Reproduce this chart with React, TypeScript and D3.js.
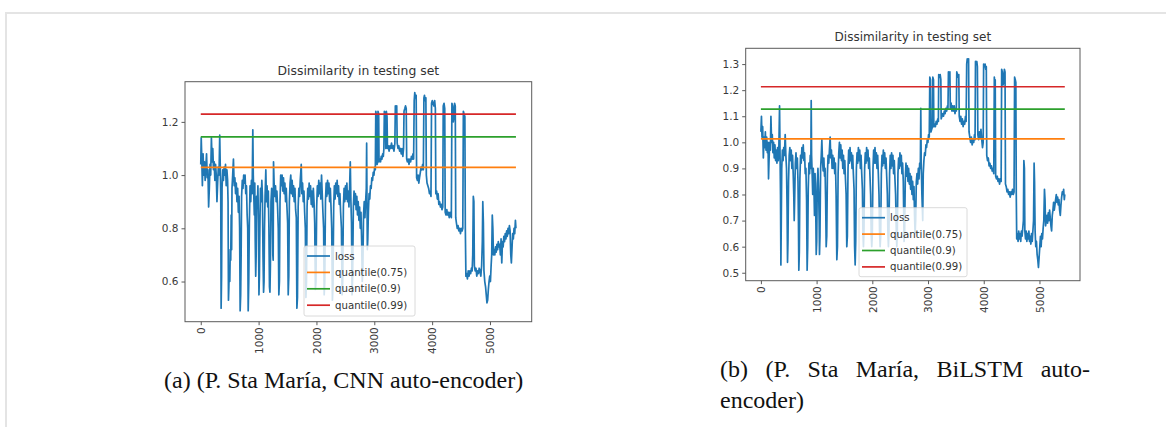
import React, { useEffect, useRef } from "react"
import * as d3 from "d3"

// loss curves as [step, dissimilarity]
const lossCnn: [number, number][] = [
  [0,1.04],[8,1.14],[18,1.06],[28,0.96],[40,1.08],[52,1.0],[64,1.05],[76,0.98],[88,1.03],[100,1.08],[112,0.99],[124,1.02],[136,0.88],[148,0.95],[160,1.04],[172,1.0],[184,1.14],[196,1.05],[208,1.1],[220,1.02],[232,1.05],[244,0.98],[256,1.04],[268,1.0],[280,0.9],[292,0.97],[304,1.03],[316,1.0],[328,1.15],[338,1.02],[346,0.92],[352,0.5],[360,0.62],[368,0.95],[380,1.02],[392,0.98],[404,1.03],[416,1.0],[428,1.04],[440,0.96],[452,1.02],[464,0.98],[472,0.9],[479,0.53],[486,0.58],[494,0.66],[502,0.6],[510,0.72],[518,0.68],[526,0.85],[534,0.72],[540,0.95],[552,1.0],[565,1.06],[578,0.96],[590,0.99],[602,0.93],[614,0.97],[626,0.9],[638,0.95],[650,0.86],[662,0.92],[672,0.8],[681,0.49],[690,0.55],[698,0.7],[706,0.92],[718,0.98],[730,0.95],[742,1.0],[754,0.97],[766,1.0],[778,0.93],[790,0.96],[802,0.85],[812,0.8],[820,0.49],[830,0.6],[840,0.82],[852,0.96],[864,0.9],[876,0.98],[888,0.93],[900,1.17],[908,1.0],[916,0.93],[926,0.85],[934,0.97],[942,0.75],[950,0.62],[958,0.7],[966,0.92],[978,0.88],[988,0.96],[998,0.82],[1006,0.55],[1014,0.62],[1022,0.8],[1032,0.95],[1044,0.9],[1056,0.98],[1066,0.92],[1076,0.7],[1086,0.56],[1094,0.6],[1102,0.8],[1112,0.92],[1125,1.02],[1136,0.9],[1146,0.96],[1158,0.88],[1168,0.94],[1178,0.8],[1188,0.58],[1196,0.56],[1204,0.66],[1214,0.9],[1226,0.95],[1238,0.9],[1246,0.7],[1252,0.68],[1258,1.05],[1268,0.97],[1280,0.92],[1292,0.96],[1304,0.9],[1316,0.94],[1328,0.88],[1340,0.8],[1350,0.55],[1360,0.6],[1370,0.9],[1382,1.0],[1394,0.96],[1406,1.0],[1418,0.94],[1430,0.99],[1442,0.93],[1454,0.97],[1466,0.9],[1478,0.95],[1490,0.88],[1502,0.82],[1512,0.55],[1522,0.62],[1532,0.9],[1544,0.97],[1556,1.0],[1568,0.93],[1580,0.98],[1592,0.92],[1604,0.96],[1616,0.9],[1628,0.95],[1640,0.87],[1652,0.84],[1662,0.5],[1672,0.54],[1684,0.88],[1696,0.95],[1708,0.92],[1720,0.98],[1737,1.04],[1748,0.93],[1760,0.97],[1772,0.9],[1784,0.94],[1796,0.86],[1808,0.8],[1818,0.54],[1828,0.6],[1838,0.88],[1850,0.95],[1862,0.91],[1874,0.97],[1886,0.92],[1898,0.96],[1910,0.89],[1922,0.94],[1934,0.88],[1946,0.95],[1958,0.9],[1970,0.82],[1982,0.57],[1992,0.6],[2004,0.88],[2016,0.96],[2028,0.92],[2040,0.98],[2052,0.93],[2064,0.97],[2076,0.91],[2088,1.0],[2100,0.93],[2112,0.86],[2124,0.8],[2134,0.55],[2144,0.6],[2156,0.9],[2168,0.97],[2180,0.92],[2192,0.98],[2204,0.93],[2216,0.97],[2228,0.9],[2240,0.95],[2252,0.88],[2264,0.8],[2276,0.53],[2286,0.58],[2298,0.88],[2310,0.96],[2322,0.91],[2334,0.97],[2346,0.93],[2358,0.98],[2370,0.92],[2382,0.96],[2394,0.89],[2406,0.93],[2418,0.86],[2432,0.8],[2444,0.55],[2454,0.6],[2466,0.88],[2478,0.95],[2490,0.9],[2502,0.96],[2514,0.91],[2526,0.97],[2538,0.9],[2550,0.94],[2562,0.88],[2574,0.96],[2585,1.05],[2596,0.9],[2606,0.82],[2616,0.55],[2626,0.62],[2638,0.88],[2650,0.94],[2662,0.89],[2674,0.93],[2686,0.87],[2698,0.92],[2710,0.85],[2722,0.9],[2734,0.83],[2746,0.88],[2758,0.8],[2770,0.86],[2782,0.75],[2792,0.6],[2802,0.64],[2814,0.85],[2826,0.9],[2838,0.84],[2850,0.9],[2862,0.95],[2868,1.12],[2874,0.9],[2880,0.72],[2888,0.76],[2898,0.86],[2910,0.93],[2922,0.91],[2934,0.96],[2946,0.95],[2958,0.99],[2970,0.98],[2982,1.01],[2994,1.0],[3006,1.03],[3018,1.02],
  [3026,1.24],[3040,1.22],[3048,1.04],[3058,1.05],[3064,1.24],[3076,1.23],[3082,1.05],[3096,1.06],[3108,1.05],[3120,1.07],[3132,1.06],[3145,1.08],[3156,1.07],[3166,1.1],[3174,1.24],[3190,1.23],[3200,1.1],[3208,1.24],[3220,1.22],[3228,1.1],[3242,1.11],[3256,1.09],[3270,1.11],[3284,1.1],[3298,1.12],[3312,1.1],[3326,1.11],[3340,1.09],[3356,1.12],[3364,1.26],[3378,1.25],[3388,1.26],[3396,1.12],[3410,1.1],[3424,1.11],[3438,1.09],[3452,1.1],[3466,1.08],[3480,1.1],[3494,1.07],[3506,1.1],[3514,1.24],[3528,1.25],[3540,1.26],[3552,1.25],[3560,1.06],[3572,1.05],[3586,1.06],[3600,1.04],[3614,1.06],[3628,1.05],[3642,1.07],[3656,1.06],[3668,1.08],[3680,1.06],[3690,1.28],[3700,1.31],[3712,1.29],[3724,1.3],[3732,0.99],[3746,0.98],[3758,1.0],[3770,0.97],[3782,0.99],[3796,1.01],[3808,1.03],[3822,1.02],[3836,1.04],[3848,1.02],[3858,1.29],[3868,1.3],[3880,1.28],[3892,1.29],[3900,1.0],[3912,0.97],[3926,0.96],[3940,0.95],[3954,0.93],[3968,0.94],[3980,0.92],[3990,1.27],[4002,1.28],[4016,1.27],[4030,1.26],[4044,1.28],[4056,1.25],[4064,0.93],[4078,0.94],[4090,0.91],[4104,0.93],[4116,0.89],[4130,0.9],[4144,0.88],[4158,0.89],[4170,0.87],[4184,0.88],[4192,1.26],[4206,1.27],[4218,1.25],[4226,0.86],[4240,0.85],[4254,0.87],[4268,0.85],[4282,0.86],[4296,0.84],[4310,0.86],[4322,0.85],[4332,0.84],[4342,1.27],[4354,1.26],[4366,1.2],[4376,1.22],[4388,1.27],[4400,1.26],[4408,0.84],[4420,0.82],[4434,0.8],[4448,0.81],[4462,0.79],[4476,0.8],[4490,0.78],[4504,0.8],[4518,0.79],[4530,0.8],[4540,1.24],[4552,1.23],[4566,1.22],[4574,0.8],[4584,0.62],
  [4596,0.63],[4610,0.61],[4624,0.64],[4638,0.62],[4652,0.64],[4666,0.63],[4680,0.65],[4692,0.64],[4702,0.7],[4712,0.92],[4722,0.9],[4730,0.66],[4744,0.64],[4758,0.65],[4772,0.62],[4786,0.64],[4800,0.63],[4814,0.65],[4828,0.64],[4842,0.62],[4856,0.66],[4868,0.75],[4876,0.9],[4886,0.82],[4896,0.64],[4910,0.6],[4924,0.58],[4936,0.55],[4948,0.52],[4960,0.53],[4972,0.57],[4984,0.6],[4996,0.62],[5008,0.6],[5020,0.66],[5030,0.7],[5040,0.85],[5050,0.8],[5060,0.7],[5072,0.72],[5084,0.7],[5096,0.73],[5108,0.71],[5120,0.74],[5132,0.72],[5144,0.75],[5156,0.73],[5168,0.74],[5180,0.7],[5192,0.76],[5204,0.67],[5216,0.75],[5228,0.73],[5240,0.77],[5252,0.75],[5264,0.78],[5276,0.76],[5288,0.79],[5300,0.77],[5312,0.8],[5324,0.78],[5336,0.81],[5348,0.79],[5360,0.7],[5370,0.67],[5380,0.72],[5392,0.78],[5404,0.76],[5416,0.8],[5428,0.78],[5440,0.83],[5449,0.8]
]

const lossBilstm: [number, number][] = [
  [0,1.04],[10,1.1],[20,1.02],[32,1.06],[44,0.94],[56,1.02],[68,0.98],[80,1.04],[92,0.97],[104,1.02],[116,0.96],[128,1.0],[137,0.86],[146,0.93],[158,1.0],[170,0.97],[180,1.1],[192,1.0],[204,1.03],[216,0.96],[228,1.0],[240,0.94],[252,0.99],[264,0.93],[276,0.97],[288,0.92],[300,0.98],[312,0.93],[322,0.97],[335,1.14],[344,0.95],[352,0.8],[359,0.53],[366,0.7],[374,0.9],[386,0.97],[398,0.93],[410,0.98],[422,0.95],[436,1.03],[448,0.95],[460,0.9],[470,0.75],[478,0.54],[486,0.62],[496,0.85],[508,0.95],[520,0.98],[532,0.93],[544,0.97],[556,0.9],[568,0.95],[580,0.88],[590,0.8],[598,0.7],[606,0.78],[618,0.92],[630,0.96],[642,0.9],[654,0.94],[666,0.85],[674,0.7],[681,0.51],[690,0.58],[700,0.86],[712,0.95],[724,0.92],[736,0.98],[748,0.94],[760,0.99],[772,0.93],[784,0.96],[796,0.88],[808,0.9],[820,0.78],[830,0.51],[840,0.6],[850,0.82],[862,0.92],[874,0.88],[886,0.95],[896,0.9],[903,1.16],[910,0.95],[920,0.88],[930,0.8],[940,0.9],[950,0.85],[962,0.72],[972,0.88],[982,0.8],[993,0.57],[1002,0.62],[1012,0.84],[1024,0.9],[1036,0.82],[1046,0.7],[1052,0.57],[1060,0.64],[1072,0.9],[1084,0.95],[1094,1.01],[1106,0.93],[1118,0.89],[1130,0.94],[1142,0.87],[1152,0.9],[1162,0.78],[1172,0.6],[1182,0.64],[1194,0.88],[1206,0.95],[1218,0.92],[1230,0.97],[1243,1.02],[1254,0.94],[1266,0.97],[1278,0.9],[1290,0.95],[1302,0.9],[1314,0.94],[1326,0.88],[1338,0.92],[1350,0.8],[1363,0.55],[1374,0.6],[1386,0.88],[1398,0.96],[1410,1.0],[1422,0.94],[1434,0.99],[1446,0.93],[1458,0.97],[1470,0.9],[1482,0.95],[1494,0.88],[1506,0.93],[1518,0.86],[1530,0.8],[1542,0.6],[1552,0.64],[1564,0.9],[1576,0.97],[1588,0.92],[1600,0.98],[1612,0.93],[1624,0.96],[1636,0.9],[1648,0.95],[1660,0.88],[1672,0.82],[1682,0.6],[1692,0.53],[1702,0.62],[1714,0.9],[1726,0.96],[1738,0.92],[1750,0.98],[1762,0.93],[1774,0.97],[1786,0.9],[1798,0.95],[1810,0.88],[1822,0.82],[1832,0.65],[1841,0.6],[1850,0.66],[1862,0.9],[1874,0.96],[1886,0.92],[1898,0.98],[1910,0.93],[1922,0.97],[1934,0.9],[1946,0.94],[1958,0.87],[1970,0.8],[1980,0.65],[1990,0.6],[2000,0.65],[2012,0.9],[2024,0.97],[2036,0.92],[2048,0.98],[2060,0.92],[2072,0.96],[2084,0.9],[2096,0.95],[2108,0.88],[2120,0.8],[2130,0.66],[2140,0.6],[2150,0.64],[2162,0.88],[2174,0.95],[2186,0.91],[2198,0.97],[2210,0.92],[2222,0.96],[2234,0.9],[2246,0.94],[2258,0.87],[2270,0.8],[2280,0.65],[2289,0.6],[2298,0.65],[2310,0.88],[2322,0.95],[2334,0.9],[2346,0.96],[2358,0.91],[2370,0.95],[2382,0.88],[2394,0.93],[2406,0.86],[2418,0.8],[2430,0.66],[2439,0.6],[2448,0.65],[2460,0.88],[2472,0.94],[2484,0.9],[2496,0.96],[2508,0.91],[2520,0.95],[2532,0.88],[2544,0.92],[2556,0.85],[2562,0.75],[2570,0.62],[2580,0.66],[2592,0.86],[2604,0.92],[2616,0.87],[2628,0.91],[2640,0.85],[2652,0.9],[2664,0.84],[2676,0.88],[2688,0.82],[2700,0.87],[2712,0.8],[2724,0.85],[2736,0.78],[2748,0.83],[2758,0.72],[2768,0.65],[2778,0.7],[2790,0.85],[2802,0.88],[2814,0.84],[2826,0.9],[2838,0.86],[2850,0.92],[2862,0.9],[2870,1.13],[2878,0.92],[2890,0.8],[2905,0.7],[2914,0.88],[2926,0.93],[2938,0.96],[2950,0.95],[2962,0.99],[2974,0.98],[2986,1.01],[2998,1.0],[3010,1.03],[3022,1.02],
  [3032,1.25],[3044,1.24],[3052,1.04],[3066,1.05],[3080,1.06],[3086,1.25],[3098,1.24],[3104,1.06],[3118,1.07],[3132,1.06],[3146,1.08],[3160,1.07],[3174,1.09],[3186,1.08],[3192,1.26],[3206,1.25],[3218,1.26],[3230,1.24],[3236,1.09],[3250,1.1],[3264,1.11],[3278,1.1],[3292,1.12],[3306,1.11],[3320,1.13],[3334,1.12],[3348,1.14],[3358,1.13],[3366,1.27],[3380,1.26],[3392,1.27],[3400,1.13],[3414,1.15],[3428,1.12],[3442,1.14],[3456,1.12],[3470,1.14],[3484,1.11],[3498,1.13],[3508,1.12],[3516,1.27],[3528,1.26],[3540,1.25],[3552,1.26],[3560,1.1],[3574,1.08],[3588,1.1],[3602,1.07],[3616,1.09],[3630,1.06],[3644,1.08],[3658,1.07],[3672,1.1],[3684,1.08],[3694,1.3],[3704,1.32],[3716,1.31],[3728,1.32],[3736,1.04],[3750,1.02],[3764,1.0],[3778,1.02],[3792,0.99],[3806,1.01],[3820,1.0],[3834,1.03],[3844,1.01],[3852,1.31],[3864,1.3],[3876,1.31],[3886,1.29],[3894,1.03],[3908,1.01],[3922,1.04],[3936,1.02],[3950,1.05],[3964,1.01],[3978,0.98],[3990,1.0],[3998,1.3],[4010,1.29],[4024,1.3],[4036,1.28],[4046,1.29],[4054,0.95],[4068,0.93],[4082,0.94],[4096,0.91],[4110,0.92],[4124,0.9],[4138,0.91],[4152,0.89],[4166,0.9],[4180,0.88],[4190,1.25],[4198,1.22],[4206,1.24],[4214,0.87],[4228,0.86],[4242,0.87],[4256,0.85],[4270,0.86],[4284,0.84],[4298,0.86],[4312,0.85],[4322,1.28],[4334,1.27],[4346,1.22],[4358,1.23],[4370,1.28],[4382,1.27],[4390,0.84],[4404,0.83],[4418,0.81],[4432,0.82],[4446,0.8],[4460,0.81],[4474,0.79],[4488,0.81],[4502,0.8],[4516,0.82],[4530,0.8],[4544,0.81],[4554,1.25],[4566,1.24],[4576,1.23],[4584,0.8],[4592,0.63],
  [4604,0.65],[4616,0.62],[4628,0.66],[4640,0.63],[4652,0.65],[4664,0.62],[4676,0.66],[4688,0.64],[4700,0.67],[4712,0.7],[4720,0.93],[4730,0.9],[4738,0.66],[4750,0.63],[4762,0.66],[4774,0.62],[4786,0.65],[4798,0.63],[4810,0.66],[4822,0.62],[4834,0.64],[4846,0.61],[4858,0.65],[4870,0.62],[4882,0.66],[4894,0.7],[4904,0.92],[4912,0.85],[4922,0.66],[4934,0.6],[4946,0.62],[4958,0.57],[4970,0.55],[4982,0.52],[4994,0.56],[5006,0.6],[5018,0.64],[5030,0.6],[5042,0.65],[5054,0.63],[5066,0.67],[5078,0.7],[5090,0.82],[5100,0.78],[5110,0.68],[5122,0.7],[5134,0.72],[5146,0.69],[5158,0.73],[5170,0.7],[5182,0.74],[5194,0.71],[5206,0.68],[5218,0.66],[5230,0.72],[5242,0.74],[5254,0.77],[5266,0.74],[5278,0.76],[5290,0.78],[5302,0.8],[5314,0.77],[5326,0.79],[5338,0.76],[5350,0.78],[5362,0.74],[5374,0.72],[5386,0.76],[5398,0.79],[5410,0.81],[5422,0.8],[5434,0.82],[5446,0.78],[5455,0.8]
]

const quantilesCnn = [1.029, 1.144, 1.229]
const quantilesBilstm = [1.013, 1.127, 1.213]
const legendNames = ["loss", "quantile(0.75)", "quantile(0.9)", "quantile(0.99)"]
const lineColors = ["#1f77b4", "#ff7f0e", "#2ca02c", "#d62728"]
const xTicks = [0, 1000, 2000, 3000, 4000, 5000]
const yTicksCnn = [0.6, 0.8, 1.0, 1.2]
const yTicksBilstm = [0.5, 0.6, 0.7, 0.8, 0.9, 1.0, 1.1, 1.2, 1.3]
const chartTitle = "Dissimilarity in testing set"
const captionA = "(a) (P. Sta María, CNN auto-encoder)"
const captionB1 = ["(b)", "(P.", "Sta", "María,", "BiLSTM", "auto-"]
const captionB2 = "encoder)"

const sans = "'DejaVu Sans', sans-serif"
const serif = "'Liberation Serif', 'Times New Roman', serif"

function drawPanel(svg, loss, quantiles, yTicks, box, legendBox, titleSize) {
  const xExt = d3.extent(loss, d => d[0])
  const yExt = d3.extent(loss, d => d[1])
  const padX = (xExt[1] - xExt[0]) * 0.05
  const padY = (yExt[1] - yExt[0]) * 0.05
  const x = d3.scaleLinear().domain([xExt[0] - padX, xExt[1] + padX]).range([box.left, box.right])
  const y = d3.scaleLinear().domain([yExt[0] - padY, yExt[1] + padY]).range([box.bottom, box.top])

  const g = svg.append("g")

  g.append("text")
    .text(chartTitle)
    .attr("x", (box.left + box.right) / 2)
    .attr("y", box.top - 7)
    .attr("text-anchor", "middle")
    .attr("font-family", sans)
    .attr("font-size", titleSize)
    .attr("fill", "#333")

  const line = d3.line().x(d => x(d[0])).y(d => y(d[1]))
  g.append("path")
    .attr("d", line(loss))
    .attr("fill", "none")
    .attr("stroke", lineColors[0])
    .attr("stroke-width", 1.7)
    .attr("stroke-linejoin", "round")

  quantiles.forEach((q, i) => {
    g.append("path")
      .attr("d", line([[xExt[0], q], [xExt[1], q]]))
      .attr("stroke", lineColors[i + 1])
      .attr("stroke-width", 1.7)
  })

  g.append("rect")
    .attr("x", box.left).attr("y", box.top)
    .attr("width", box.right - box.left).attr("height", box.bottom - box.top)
    .attr("fill", "none").attr("stroke", "#5a5a5a").attr("stroke-width", 1)

  const yAxis = g.append("g")
    .attr("transform", "translate(" + box.left + ",0)")
    .call(d3.axisLeft(y).tickValues(yTicks).tickFormat(d3.format(".1f")).tickSize(3.5).tickPadding(3))
  const xAxis = g.append("g")
    .attr("transform", "translate(0," + box.bottom + ")")
    .call(d3.axisBottom(x).tickValues(xTicks).tickFormat(d3.format("d")).tickSize(3.5))
  xAxis.selectAll("text")
    .attr("transform", "rotate(-90)")
    .attr("text-anchor", "end")
    .attr("x", -5.5)
    .attr("y", 0)
    .attr("dy", "0.35em")
  for (const ax of [xAxis, yAxis]) {
    ax.select(".domain").remove()
    ax.selectAll("line").attr("stroke", "#5a5a5a")
    ax.selectAll("text").attr("fill", "#3a3a3a").attr("font-family", sans).attr("font-size", 10.5)
    ax.attr("font-family", null).attr("font-size", null)
  }

  // legend, white box laid over the curve
  const lg = g.append("g").attr("transform", "translate(" + legendBox.x + "," + legendBox.y + ")")
  lg.append("rect")
    .attr("width", legendBox.w).attr("height", legendBox.h).attr("rx", 2)
    .attr("fill", "white").attr("fill-opacity", 0.8)
    .attr("stroke", "#d0d0d0").attr("stroke-width", 0.8)
  legendNames.forEach((name, i) => {
    const cy = 10 + i * 16.4
    lg.append("line")
      .attr("x1", 3).attr("x2", 26).attr("y1", cy).attr("y2", cy)
      .attr("stroke", lineColors[i]).attr("stroke-width", 1.7)
    lg.append("text")
      .text(name)
      .attr("x", 31).attr("y", cy).attr("dy", "0.35em")
      .attr("font-family", sans).attr("font-size", 10.2)
      .attr("fill", "#333")
  })
}

export default function App() {
  const ref = useRef(null)

  useEffect(() => {
    const svg = d3.select(ref.current)
    svg.selectAll("*").remove()

    // page frame
    svg.append("line").attr("x1", 5).attr("x2", 1166).attr("y1", 13).attr("y2", 13)
      .attr("stroke", "#e4e4e4").attr("stroke-width", 2)
    svg.append("line").attr("x1", 6).attr("x2", 6).attr("y1", 12).attr("y2", 427)
      .attr("stroke", "#e4e4e4").attr("stroke-width", 2)

    drawPanel(svg, lossCnn, quantilesCnn, yTicksCnn,
      { left: 185, top: 81.7, right: 531.7, bottom: 321.7 },
      { x: 304, y: 246, w: 111, h: 70 }, 12.4)
    drawPanel(svg, lossBilstm, quantilesBilstm, yTicksBilstm,
      { left: 745.7, top: 48.3, right: 1080, bottom: 280.7 },
      { x: 859, y: 207.7, w: 108, h: 69 }, 12)

    svg.append("text").text(captionA)
      .attr("x", 164).attr("y", 388)
      .attr("font-family", serif).attr("font-size", 24).attr("fill", "#111")

    // justified first line of caption (b)
    const words = svg.selectAll(".capb").data(captionB1).enter().append("text")
      .attr("class", "capb")
      .text(d => d)
      .attr("y", 377)
      .attr("font-family", serif).attr("font-size", 24).attr("fill", "#111")
    const widths = []
    words.each(function () { widths.push(this.getComputedTextLength()) })
    const gap = (1090 - 720 - d3.sum(widths)) / (captionB1.length - 1)
    let cx = 720
    words.attr("x", (d, i) => {
      const px = cx
      cx += widths[i] + gap
      return px
    })
    svg.append("text").text(captionB2)
      .attr("x", 720).attr("y", 408)
      .attr("font-family", serif).attr("font-size", 24).attr("fill", "#111")
  }, [])

  return (
    <svg ref={ref} width={1166} height={427}
      style={{ position: "absolute", left: 0, top: 0, background: "white" }} />
  )
}
